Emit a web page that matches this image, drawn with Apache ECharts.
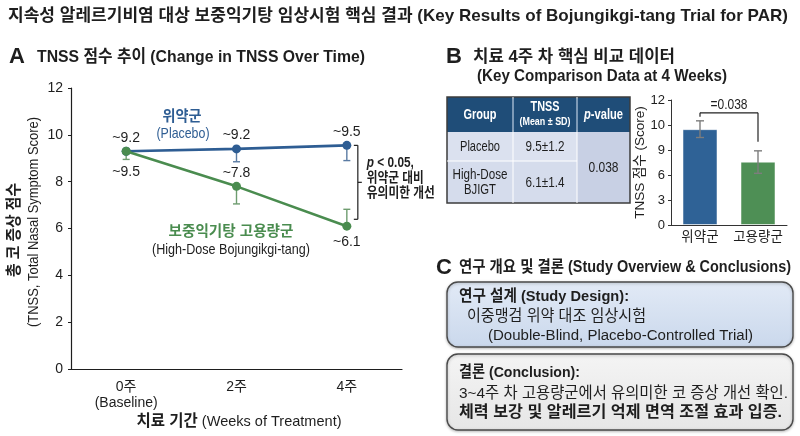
<!DOCTYPE html>
<html><head><meta charset="utf-8">
<script src="https://cdn.jsdelivr.net/npm/echarts@6/dist/echarts.min.js"></script>
<style>html,body{margin:0;padding:0;background:#fff}#c{width:800px;height:436px}</style>
</head><body><div id="c"></div>
<script>
// ---------- data ----------
const weeks = ['0주\n(Baseline)', '2주', '4주'];
const placebo = [9.3, 9.4, 9.55];
const highDose = [9.3, 7.8, 6.1];
const placeboErrLow = [9.3, 8.85, 8.9];
const placeboErrHigh = [9.3, 9.4, 9.55];
const highDoseErrLow = [8.95, 7.05, 6.1];
const highDoseErrHigh = [9.3, 7.8, 6.82];
const placeboLabels = ['~9.2', '~9.2', '~9.5'];
const highDoseLabels = ['~9.5', '~7.8', '~6.1'];

const barGroups = ['위약군', '고용량군'];
// values in the units of the evenly spaced tick grid (ticks every 3 units)
const barValues = [11.5, 7.6];
const barErrLow = [10.5, 6.2];
const barErrHigh = [12.5, 8.9];
const barTickLabels = ['0', '3', '6', '9', '10', '12']; // labels as printed on the ticks
const barPText = '=0.038';

const tableHeader = ['Group', 'TNSS', 'p-value'];
const tableSubHeader = '(Mean ± SD)';
const tableRows = [['Placebo', '9.5±1.2'], ['High-Dose', 'BJIGT', '6.1±1.4']];
const tablePValue = '0.038';

// ---------- styles ----------
const F = "'Liberation Sans','Noto Sans CJK KR',sans-serif";
const BLUE = '#2e5d93', GREEN = '#4a8c4f', INK = '#1e1e1e';

const chart = echarts.init(document.getElementById('c'), null, {renderer: 'canvas'});

function errRender(color, capW) {
  return function (params, api) {
    const x = api.value(0);
    const lo = api.coord([x, api.value(1)]);
    const hi = api.coord([x, api.value(2)]);
    const s = {stroke: color, lineWidth: 1.4};
    return {type: 'group', children: [
      {type: 'line', shape: {x1: lo[0], y1: lo[1], x2: hi[0], y2: hi[1]}, style: s},
      {type: 'line', shape: {x1: lo[0] - capW / 2, y1: lo[1], x2: lo[0] + capW / 2, y2: lo[1]}, style: s},
      {type: 'line', shape: {x1: hi[0] - capW / 2, y1: hi[1], x2: hi[0] + capW / 2, y2: hi[1]}, style: s}
    ]};
  };
}

const hdLabelPos = ['bottom', 'top', 'bottom'];
const hdLabelDist = [9, 2, 4];

chart.setOption({
  animation: false,
  grid: [
    {left: 71, top: 88, width: 331, height: 281},
    {left: 671, top: 100, width: 116, height: 125}
  ],
  xAxis: [
    {type: 'category', gridIndex: 0, data: weeks, boundaryGap: true,
     axisLine: {lineStyle: {color: INK, width: 1.2}},
     axisTick: {alignWithLabel: true, length: 4, lineStyle: {color: INK}},
     axisLabel: {fontSize: 14, lineHeight: 16, margin: 10, color: INK, fontFamily: F}},
    {type: 'category', gridIndex: 1, data: barGroups, boundaryGap: true,
     axisLine: {lineStyle: {color: '#333', width: 1}},
     axisTick: {show: false},
     axisLabel: {fontSize: 13.5, margin: 6, color: INK, fontFamily: F, interval: 0}}
  ],
  yAxis: [
    {type: 'value', gridIndex: 0, min: 0, max: 12, interval: 2,
     splitLine: {show: false},
     axisLine: {show: true, lineStyle: {color: INK, width: 1.2}},
     axisTick: {show: true, length: 3, lineStyle: {color: INK}},
     axisLabel: {fontSize: 14, margin: 8, color: INK, fontFamily: F}},
    {type: 'value', gridIndex: 1, min: 0, max: 15, interval: 3,
     splitLine: {show: false},
     axisLine: {show: true, lineStyle: {color: '#333', width: 1}},
     axisTick: {show: true, length: 3, lineStyle: {color: '#333'}},
     axisLabel: {fontSize: 13, margin: 6, color: INK, fontFamily: F,
                 formatter: v => barTickLabels[Math.round(v / 3)]},
     name: 'TNSS 점수 (Score)', nameLocation: 'middle', nameGap: 24, nameRotate: 90,
     nameTextStyle: {fontSize: 13.5, color: INK, fontFamily: F}}
  ],
  series: [
    {type: 'custom', xAxisIndex: 0, yAxisIndex: 0, z: 1,
     renderItem: errRender('#5a7ba3', 7),
     data: placebo.map((v, i) => [i, placeboErrLow[i], placeboErrHigh[i]])},
    {type: 'custom', xAxisIndex: 0, yAxisIndex: 0, z: 1,
     renderItem: errRender('#6e9c6f', 7),
     data: highDose.map((v, i) => [i, highDoseErrLow[i], highDoseErrHigh[i]])},
    {type: 'line', xAxisIndex: 0, yAxisIndex: 0, z: 3, data: placebo,
     color: BLUE, lineStyle: {width: 2.6, color: BLUE}, symbol: 'circle', symbolSize: 9,
     itemStyle: {color: BLUE},
     label: {show: true, position: 'top', distance: 2, fontSize: 14, color: INK, fontFamily: F,
             formatter: p => placeboLabels[p.dataIndex]}},
    {type: 'line', xAxisIndex: 0, yAxisIndex: 0, z: 4,
     data: highDose.map((v, i) => ({value: v, label: {position: hdLabelPos[i], distance: hdLabelDist[i]}})),
     color: GREEN, lineStyle: {width: 2.6, color: GREEN}, symbol: 'circle', symbolSize: 9,
     itemStyle: {color: GREEN},
     label: {show: true, fontSize: 14, color: INK, fontFamily: F,
             formatter: p => highDoseLabels[p.dataIndex]}},
    {type: 'bar', xAxisIndex: 1, yAxisIndex: 1, barWidth: 35, z: 2,
     data: barValues.map((v, i) => ({value: v, itemStyle: {color: i === 0 ? '#2f6296' : '#4e8f55'}})),
     itemStyle: {borderColor: 'rgba(255,255,255,0.5)', borderWidth: 1}},
    {type: 'custom', xAxisIndex: 1, yAxisIndex: 1, z: 5,
     renderItem: errRender('#7d7d7d', 8),
     data: barValues.map((v, i) => [i, barErrLow[i], barErrHigh[i]])}
  ]
});

// ---------- annotations / layout texts ----------
const mctx = document.createElement('canvas').getContext('2d');
function mw(text, size, bold, italic) {
  mctx.font = (italic ? 'italic ' : '') + (bold ? 'bold ' : '') + size + 'px ' + F;
  return mctx.measureText(text).width;
}
// o.w = target width (px) -> horizontal condensing; o.segs = [[text,size,bold,italic],...] for rich text measuring
function T(x, y, text, o) {
  o = o || {};
  const size = o.size || 14;
  let sx = 1;
  if (o.w) {
    const segs = o.segs || [[text, size, o.bold, o.italic]];
    let tot = 0;
    segs.forEach(s => { tot += mw(s[0], s[1], s[2], s[3]); });
    sx = o.w / tot;
  }
  return {type: 'text', x: x, y: y, rotation: o.rotation || 0, scaleX: sx, z: 10,
    style: {text: text, fontSize: size, fontWeight: o.bold ? 'bold' : 'normal',
      fontStyle: o.italic ? 'italic' : 'normal',
      fill: o.color || INK, fontFamily: F, align: o.align || 'left',
      verticalAlign: 'middle', rich: o.rich}};
}
function L(x1, y1, x2, y2, color, w) {
  return {type: 'line', z: 10, shape: {x1, y1, x2, y2}, style: {stroke: color || INK, lineWidth: w || 1.2}};
}
const px = (g, c, v) => chart.convertToPixel({gridIndex: g}, [c, v]);

const els = [];
// main title
els.push(T(8, 16, '지속성 알레르기비염 대상 보중익기탕 임상시험 핵심 결과 (Key Results of Bojungikgi-tang Trial for PAR)', {size: 17, bold: true, w: 780}));
// Panel A title
els.push(T(9, 57, 'A', {size: 22, bold: true}));
els.push(T(37, 57, 'TNSS 점수 추이 (Change in TNSS Over Time)', {size: 16.5, bold: true, w: 328}));
// Y axis titles
els.push(T(15, 230, '총 코 증상 점수', {size: 16, bold: true, rotation: Math.PI / 2, align: 'center', w: 94}));
els.push(T(34, 222, '(TNSS, Total Nasal Symptom Score)', {size: 15, rotation: Math.PI / 2, align: 'center', w: 210}));
// X axis title
els.push(T(239, 422, '{b|치료 기간} (Weeks of Treatment)', {size: 15, align: 'center', w: 205,
  segs: [['치료 기간', 16, true], [' (Weeks of Treatment)', 15, false]],
  rich: {b: {fontSize: 16, fontWeight: 'bold', fontFamily: F, fill: INK}}}));
// series names
els.push(T(182, 117, '위약군', {size: 15, bold: true, color: BLUE, align: 'center', w: 39}));
els.push(T(183, 134, '(Placebo)', {size: 15, color: BLUE, align: 'center', w: 53}));
els.push(T(231, 232, '보중익기탕 고용량군', {size: 15, bold: true, color: GREEN, align: 'center', w: 125}));
els.push(T(231, 250, '(High-Dose Bojungikgi-tang)', {size: 15, align: 'center', w: 158}));

// significance bracket panel A
const pTop = px(0, 2, placebo[2]);
const pBot = px(0, 2, highDoseErrHigh[2]);
const bx = pTop[0] + 11, by1 = pTop[1], by2 = pBot[1] + 10, bym = (by1 + by2) / 2;
els.push(L(bx - 4, by1, bx, by1));
els.push(L(bx, by1, bx, by2));
els.push(L(bx - 4, by2, bx, by2));
els.push(L(bx, bym, bx + 4, bym));
els.push(T(bx + 9, by1 + 18, '{i|p} < 0.05,', {size: 14, bold: true, w: 47,
  segs: [['p', 14, true, true], [' < 0.05,', 14, true]],
  rich: {i: {fontStyle: 'italic', fontWeight: 'bold', fontSize: 14, fontFamily: F, fill: INK}}}));
els.push(T(bx + 9, by1 + 33, '위약군 대비', {size: 14, bold: true, w: 57}));
els.push(T(bx + 9, by1 + 48, '유의미한 개선', {size: 14, bold: true, w: 68}));

// Panel B title
els.push(T(446, 57, 'B', {size: 22, bold: true}));
els.push(T(473, 57, '치료 4주 차 핵심 비교 데이터', {size: 16.5, bold: true, w: 202}));
els.push(T(477, 76, '(Key Comparison Data at 4 Weeks)', {size: 16.5, bold: true, w: 250}));

// table
const tX = [447, 513, 577, 630], tY = [97, 132, 161, 203];
els.push({type: 'rect', z: 8, shape: {x: tX[0], y: tY[0], width: tX[3] - tX[0], height: tY[1] - tY[0]},
  style: {fill: '#1f4d78'}});
els.push({type: 'rect', z: 8, shape: {x: tX[0], y: tY[1], width: tX[2] - tX[0], height: tY[2] - tY[1]},
  style: {fill: '#dbe1ef'}});
els.push({type: 'rect', z: 8, shape: {x: tX[0], y: tY[2], width: tX[2] - tX[0], height: tY[3] - tY[2]},
  style: {fill: '#d5dcec'}});
els.push({type: 'rect', z: 8, shape: {x: tX[2], y: tY[1], width: tX[3] - tX[2], height: tY[3] - tY[1]},
  style: {fill: '#c8d0e4'}});
els.push(L(tX[1], tY[0], tX[1], tY[3], '#ffffff', 1));
els.push(L(tX[2], tY[0], tX[2], tY[3], '#ffffff', 1));
els.push(L(tX[0], tY[2], tX[2], tY[2], '#ffffff', 1));
els.push(L(tX[1], tY[0] + 2, tX[1], tY[1] - 2, '#6f8fb3', 1));
els.push(L(tX[2], tY[0] + 2, tX[2], tY[1] - 2, '#6f8fb3', 1));
els.push({type: 'rect', z: 9, shape: {x: tX[0], y: tY[0], width: tX[3] - tX[0], height: tY[3] - tY[0]},
  style: {fill: 'none', stroke: '#3c3c3c', lineWidth: 1.5}});
const cx = [(tX[0] + tX[1]) / 2, (tX[1] + tX[2]) / 2, (tX[2] + tX[3]) / 2];
els.push(T(cx[0], 115, tableHeader[0], {size: 15, bold: true, color: '#fff', align: 'center', w: 33}));
els.push(T(cx[1], 107, tableHeader[1], {size: 15, bold: true, color: '#fff', align: 'center', w: 29}));
els.push(T(cx[1], 122, tableSubHeader, {size: 10, bold: true, color: '#fff', align: 'center', w: 51}));
els.push(T(cx[2], 115, '{i|p}-value', {size: 15, bold: true, color: '#fff', align: 'center', w: 39,
  segs: [['p', 15, true, true], ['-value', 15, true]],
  rich: {i: {fontStyle: 'italic', fontWeight: 'bold', fontSize: 15, fontFamily: F, fill: '#fff'}}}));
els.push(T(cx[0], 147, tableRows[0][0], {size: 15, align: 'center', w: 40}));
els.push(T(cx[1], 147, tableRows[0][1], {size: 15, align: 'center', w: 39}));
els.push(T(cx[0], 175, tableRows[1][0], {size: 15, align: 'center', w: 55}));
els.push(T(cx[0], 190, tableRows[1][1], {size: 15, align: 'center', w: 32}));
els.push(T(cx[1], 183, tableRows[1][2], {size: 15, align: 'center', w: 39}));
els.push(T(cx[2], 168, tablePValue, {size: 15, align: 'center', w: 30}));

// bar chart significance bracket
const b0 = px(1, 0, barErrHigh[0]);
const b1 = px(1, 1, barErrHigh[1]);
const topY = b0[1] - 8;
els.push(L(b0[0], b0[1] - 4, b0[0], topY, '#222', 1.2));
els.push(L(b0[0], topY, b1[0], topY, '#222', 1.2));
els.push(L(b1[0], topY, b1[0], b1[1] - 9, '#222', 1.2));
els.push(T((b0[0] + b1[0]) / 2, topY - 8, barPText, {size: 14, align: 'center', w: 37}));

// Panel C
els.push(T(436, 268, 'C', {size: 22, bold: true}));
els.push(T(459, 268, '연구 개요 및 결론 (Study Overview & Conclusions)', {size: 16, bold: true, w: 332}));
els.push({type: 'rect', z: 7, shape: {x: 447, y: 282, width: 346, height: 65, r: 11},
  style: {fill: new echarts.graphic.LinearGradient(0, 0, 0, 1,
    [{offset: 0, color: '#e2eaf6'}, {offset: 1, color: '#cad8ec'}]),
    stroke: '#4a4a4a', lineWidth: 1.4, shadowBlur: 3, shadowColor: 'rgba(0,0,0,0.25)', shadowOffsetY: 1}});
els.push({type: 'rect', z: 7, shape: {x: 447, y: 354, width: 346, height: 76, r: 11},
  style: {fill: new echarts.graphic.LinearGradient(0, 0, 0, 1,
    [{offset: 0, color: '#f4f4f4'}, {offset: 1, color: '#e6e6e6'}]),
    stroke: '#4a4a4a', lineWidth: 1.4, shadowBlur: 3, shadowColor: 'rgba(0,0,0,0.25)', shadowOffsetY: 1}});
els.push(T(459, 297, '연구 설계 (Study Design):', {size: 15.5, bold: true, w: 170}));
els.push(T(467, 317, '이중맹검 위약 대조 임상시험', {size: 15.5, w: 179}));
els.push(T(488, 336, '(Double-Blind, Placebo-Controlled Trial)', {size: 15.5, w: 265}));
els.push(T(459, 373, '결론 (Conclusion):', {size: 15.5, bold: true, w: 121}));
els.push(T(459, 394, '3~4주 차 고용량군에서 유의미한 코 증상 개선 확인.', {size: 15.5, w: 329}));
els.push(T(459, 413, '체력 보강 및 알레르기 억제 면역 조절 효과 입증.', {size: 15.5, bold: true, w: 323}));

chart.setOption({graphic: {elements: els}});
</script>
</body></html>
